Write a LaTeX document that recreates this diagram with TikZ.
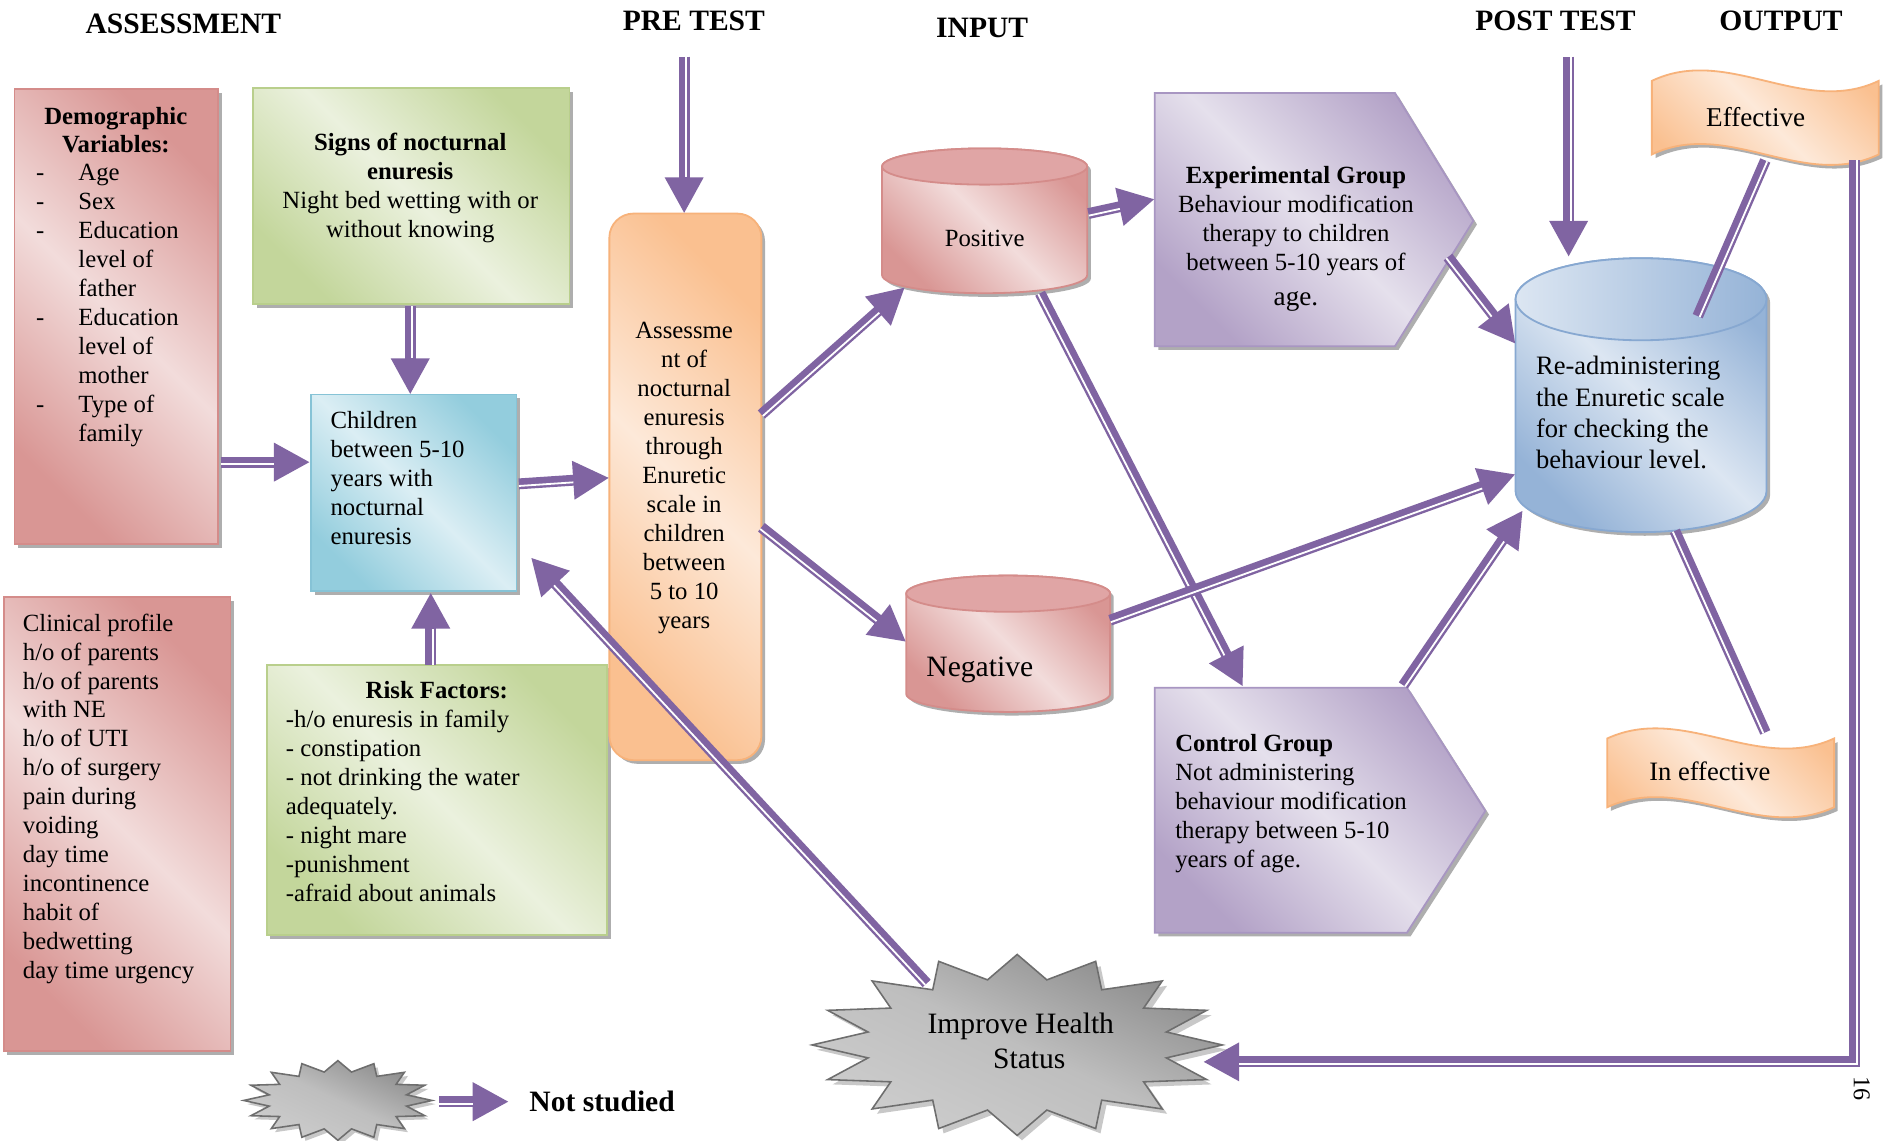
\documentclass[tikz,border=0pt]{standalone}
\usepackage{fontspec}
\setmainfont{Liberation Serif}
\usetikzlibrary{arrows.meta,shadows,calc}
\definecolor{arrc}{HTML}{8064A2}
\definecolor{pinkD}{HTML}{D99694}
\definecolor{pinkL}{HTML}{F2DCDB}
\definecolor{pinkB}{HTML}{D48C8A}
\definecolor{pinkT}{HTML}{E0A5A5}
\definecolor{greenD}{HTML}{C3D69B}
\definecolor{greenL}{HTML}{EBF1DE}
\definecolor{greenB}{HTML}{B9CF8C}
\definecolor{blueD}{HTML}{93CDDD}
\definecolor{blueL}{HTML}{DBEEF4}
\definecolor{blueB}{HTML}{86C3D6}
\definecolor{orD}{HTML}{FAC090}
\definecolor{orL}{HTML}{FDE9D9}
\definecolor{orB}{HTML}{F7B27A}
\definecolor{purD}{HTML}{B3A2C7}
\definecolor{purL}{HTML}{E5E0EC}
\definecolor{purB}{HTML}{A896C2}
\definecolor{rbD}{HTML}{95B3D7}
\definecolor{rbL}{HTML}{DCE6F2}
\definecolor{rbB}{HTML}{87A8D1}
\definecolor{grD}{HTML}{8A8A8A}
\definecolor{grM}{HTML}{BEBEBE}
\definecolor{grL}{HTML}{CDCDCD}
\definecolor{grB}{HTML}{6E6E6E}
\newcommand\dItem{\makebox[35pt][l]{-}}
\newcommand\iItem{\hspace*{35pt}}
\tikzset{
  grad/.style 2 args={shade, top color=#1, bottom color=#1, middle color=#2, shading angle=-45},
  shad/.style={drop shadow={shadow xshift=3pt, shadow yshift=-3pt, fill=black!45, opacity=.7}},
  bx/.style={inner sep=0pt, outer sep=0pt, line width=1.5pt},
  shp/.style={inner sep=0pt, outer sep=0pt, draw=none},
  txt/.style={inner sep=0pt, outer sep=0pt, font=\fontsize{20.5}{24}\selectfont},
  hdr/.style={inner sep=0pt, outer sep=0pt, font=\bfseries\fontsize{24.5}{28}\selectfont},
  arrb/.style={draw=arrc, line width=9pt, -{Triangle[length=30pt,width=30pt]}},
  linb/.style={draw=arrc, line width=9pt},
  wl/.style={draw=white, line width=1.5pt},
}
% #1 start angle, #2 end angle, #3 start coordinate, #4 end coordinate
\newcommand\darr[4]{%
  \draw[arrb] (#3) -- (#4);
  \path ($(#4)!30pt!(#3)$) coordinate (tmpE);
  \draw[wl] ($(#3)!1.75pt!#1:(#4)$) -- ($(tmpE)!1.75pt!#2:(#3)$);
}
\newcommand\dlin[4]{%
  \draw[linb] (#3) -- (#4);
  \draw[wl] ($(#3)!1.75pt!#1:(#4)$) -- ($(#4)!1.75pt!#2:(#3)$);
}
\begin{document}
\begin{tikzpicture}[x=1pt,y=-1pt]
\useasboundingbox (0,0) rectangle (1568,945);
\fill[white] (0,0) rectangle (1568,945);

% headers
\node[hdr] (hA) at (152,20) {ASSESSMENT};
\node[hdr] (hP) at (575,17) {PRE TEST};
\node[hdr] (hI) at (814,23) {INPUT};
\node[hdr] (hPo) at (1289,17) {POST TEST};
\node[hdr] (hO) at (1476,17) {OUTPUT};

% left boxes
\node[bx, grad={pinkD}{pinkL}, draw=pinkB, shad, minimum width=169pt, minimum height=377pt] (demo) at (96.5,262.5) {};
\node[txt, font=\bfseries\fontsize{20.5}{23.5}\selectfont, align=center] (demoH) at (96,108) {Demographic\\Variables:};
\node[txt, align=left, anchor=west] (demoL) at (30,253) {\dItem Age\\\dItem Sex\\\dItem Education\\\iItem level of\\\iItem father\\\dItem Education\\\iItem level of\\\iItem mother\\\dItem Type of\\\iItem family};

\node[bx, grad={greenD}{greenL}, draw=greenB, shad, minimum width=262pt, minimum height=179pt] (signs) at (341,162.5) {};
\node[txt, align=center] (signsT) at (340,156) {\textbf{Signs of nocturnal}\\\textbf{enuresis}\\Night bed wetting with or\\without knowing};

\node[bx, grad={blueD}{blueL}, draw=blueB, shad, minimum width=170pt, minimum height=163pt] (children) at (343,408.5) {};
\node[txt, align=left, anchor=west] (childT) at (274,396) {Children\\between 5-10\\years with\\nocturnal\\enuresis};

\node[bx, grad={pinkD}{pinkL}, draw=pinkB, shad, minimum width=188pt, minimum height=376pt] (clin) at (97,683) {};
\node[txt, align=left, anchor=west] (clinT) at (19,662) {Clinical profile\\h/o of parents\\h/o of parents\\with NE\\h/o of UTI\\h/o of surgery\\pain during\\voiding\\day time\\incontinence\\habit of\\bedwetting\\day time urgency};

\node[bx, grad={greenD}{greenL}, draw=greenB, shad, minimum width=282pt, minimum height=224pt] (risk) at (362,663) {};
\node[txt, font=\bfseries\fontsize{20.5}{24}\selectfont] (riskH) at (362,572) {Risk Factors:};
\node[txt, align=left, anchor=west] (riskT) at (237,668) {-h/o enuresis in family\\- constipation\\- not drinking the water\\adequately.\\- night mare\\-punishment\\-afraid about animals};

\node[bx, grad={orD}{orL}, draw=orB, shad, rounded corners=20pt, minimum width=126pt, minimum height=453pt] (assess) at (568,403.5) {};
\node[txt, align=center] (assT) at (567,396) {Assessme\\nt of\\nocturnal\\enuresis\\through\\Enuretic\\scale in\\children\\between\\5 to 10\\years};

% positive cylinder
\path[grad={pinkD}{pinkL}, draw=pinkB, line width=1.5pt, shad] (731,138) -- (731,228) arc[start angle=180, end angle=360, x radius=85pt, y radius=15pt] -- (901,138) arc[start angle=0, end angle=180, x radius=85pt, y radius=15pt] -- cycle;
\path[fill=pinkT, draw=pinkB, line width=1.5pt] (816,138) ellipse[x radius=85pt, y radius=15pt];
\node[shp, minimum width=170pt, minimum height=120pt] (pos) at (816,183) {};
\node[txt] (posT) at (816,198) {Positive};

% negative cylinder
\path[grad={pinkD}{pinkL}, draw=pinkB, line width=1.5pt, shad] (751,492) -- (751,575) arc[start angle=180, end angle=360, x radius=84.5pt, y radius=15pt] -- (920,492) arc[start angle=0, end angle=180, x radius=84.5pt, y radius=15pt] -- cycle;
\path[fill=pinkT, draw=pinkB, line width=1.5pt] (835.5,492) ellipse[x radius=84.5pt, y radius=15pt];
\node[shp, minimum width=169pt, minimum height=113pt] (neg) at (835.5,533.5) {};
\node[txt, font=\fontsize{24.5}{28}\selectfont] (negT) at (812,555) {Negative};

% experimental group
\path[grad={purD}{purL}, draw=purB, line width=1.5pt, shad] (957,77) -- (1156,77) -- (1221,183) -- (1156,287) -- (957,287) -- cycle;
\node[shp, minimum width=264pt, minimum height=210pt] (exp) at (1089,182) {};
\node[txt, align=center] (expT) at (1074,198) {\textbf{Experimental Group}\\Behaviour modification\\therapy to children\\between 5-10 years of\\[5pt]{\fontsize{22.5}{26}\selectfont age.}};

% control group
\path[grad={purD}{purL}, draw=purB, line width=1.5pt, shad] (957,570) -- (1166,570) -- (1231,672) -- (1166,773) -- (957,773) -- cycle;
\node[shp, minimum width=274pt, minimum height=203pt] (ctrl) at (1094,671.5) {};
\node[txt, align=left, anchor=west] (ctrlT) at (974,666) {\textbf{Control Group}\\Not administering\\behaviour modification\\therapy between 5-10\\years of age.};

% re-administering cylinder
\path[grad={rbD}{rbL}, draw=rbB, line width=1.5pt, shad] (1256,248) -- (1256,407) arc[start angle=180, end angle=360, x radius=104pt, y radius=34pt] -- (1464,248) arc[start angle=0, end angle=180, x radius=104pt, y radius=34pt] -- cycle;
\path[shade, left color=rbL, right color=rbD, draw=rbB, line width=1.5pt] (1360,248) ellipse[x radius=104pt, y radius=34pt];
\node[shp, minimum width=208pt, minimum height=227pt] (ra) at (1360,327.5) {};
\node[txt, align=left, anchor=west, font=\fontsize{22}{26}\selectfont] (raT) at (1273,342) {Re-administering\\the Enuretic scale\\for checking the\\behaviour level.};

% effective / in effective
\path[grad={orD}{orL}, draw=orB, line width=1.5pt, shad] (1369,67) .. controls (1432,37) and (1494,97) .. (1557,67) -- (1557,128) .. controls (1494,158) and (1432,98) .. (1369,128) -- cycle;
\node[shp, minimum width=188pt, minimum height=78pt] (eff) at (1463,97) {};
\node[txt, font=\fontsize{22.5}{26}\selectfont] (effT) at (1455,97) {Effective};

\path[grad={orD}{orL}, draw=orB, line width=1.5pt, shad] (1332,612) .. controls (1395,583) and (1457,641) .. (1520,612) -- (1520,669) .. controls (1457,698) and (1395,640) .. (1332,669) -- cycle;
\node[shp, minimum width=188pt, minimum height=75pt] (ineff) at (1426,637.5) {};
\node[txt, font=\fontsize{22}{26}\selectfont] (ineffT) at (1417,639) {In effective};

% improve health star
\path[shade, top color=grD, bottom color=grL, middle color=grM, shading angle=-25, draw=grB, line width=1.3pt, drop shadow={shadow xshift=4pt, shadow yshift=-4pt, fill=black!30, opacity=.7}]
  ({843+170},866) \foreach \k in {1,...,31}{ -- ({843+(148+22*cos(\k*180))*cos(\k*11.25)},{866+(65+10*cos(\k*180))*sin(\k*11.25)}) } -- cycle;
\node[shp, minimum width=340pt, minimum height=150pt] (imp) at (843,866) {};
\node[txt, align=center, font=\fontsize{24.5}{29}\selectfont] (impT) at (846,863) {Improve Health\\\hspace*{14pt}Status};

% legend star
\path[shade, top color=grD, bottom color=grL, middle color=grM, shading angle=-25, draw=grB, line width=1.3pt, drop shadow={shadow xshift=3pt, shadow yshift=-3pt, fill=black!30, opacity=.7}]
  ({280+78},912) \foreach \k in {1,...,31}{ -- ({280+(68+10*cos(\k*180))*cos(\k*11.25)},{912+(28.5+4.5*cos(\k*180))*sin(\k*11.25)}) } -- cycle;
\node[shp, minimum width=156pt, minimum height=66pt] (leg) at (280,912) {};
\node[hdr] (nsT) at (499,913) {Not studied};

\node[txt, rotate=-90, font=\fontsize{20}{24}\selectfont] (pg) at (1543,902) {16};

% connector end points, tied to the nodes
\coordinate (c1s) at ($(assess.north)+(-1,-130)$);  \coordinate (c1e) at ($(assess.north)+(-1,0)$);
\coordinate (c2s) at ($(ra.north)+(-60,-167)$);     \coordinate (c2e) at ($(ra.north)+(-60,-1)$);
\coordinate (c3s) at ($(signs.south)+(-1,2)$);      \coordinate (c3e) at ($(children.north)+(-3,0)$);
\coordinate (c4s) at ($(risk.north)+(-5,0)$);       \coordinate (c4e) at ($(children.south)+(14,1)$);
\coordinate (c5s) at ($(demo.east)+(2,120.5)$);     \coordinate (c5e) at ($(children.west)+(-1,-25.5)$);
\coordinate (c6s) at ($(children.east)+(2,-7.5)$);  \coordinate (c6e) at ($(assess.west)+(0,-7.5)$);
\coordinate (c7s) at ($(assess.east)+(0,-60)$);     \coordinate (c7e) at ($(pos.south west)+(19,-5)$);
\coordinate (c8s) at ($(assess.east)+(0,33.5)$);    \coordinate (c8e) at ($(neg.west)+(0,-1.5)$);
\coordinate (c9s) at ($(pos.east)+(1,-6)$);         \coordinate (c9e) at ($(exp.west)+(0,-17)$);
\coordinate (c10s) at ($(pos.south)+(46,0)$);       \coordinate (c10e) at ($(ctrl.north)+(-64,-1)$);
\coordinate (c11s) at ($(exp.east)+(-21,31)$);      \coordinate (c11e) at ($(ra.west)+(0,-42.5)$);
\coordinate (c12s) at ($(neg.east)+(0,-19.5)$);     \coordinate (c12e) at ($(ra.west)+(0,65.5)$);
\coordinate (c13s) at ($(ctrl.north)+(69,-2)$);     \coordinate (c13e) at ($(ra.south west)+(6,-18)$);
\coordinate (c14s) at ($(ra.north)+(47,48)$);       \coordinate (c14e) at ($(eff.south)+(0,-3)$);
\coordinate (c15s) at ($(ra.south)+(28,-1)$);       \coordinate (c15e) at ($(ineff.north)+(37,7)$);
\coordinate (c16s) at ($(eff.south east)+(-20,-3)$); \coordinate (c16e) at ($(imp.east)+(-16,14)$);
\coordinate (c17s) at ($(imp.north west)+(95,24)$); \coordinate (c17e) at ($(children.south east)+(12,-28)$);
\coordinate (c18s) at ($(leg.east)+(6,1)$);         \coordinate (c18e) at ($(nsT.west)+(-17,0)$);

% connectors (thin line of each double stroke on the lower / right side)
\darr{90}{270}{c1s}{c1e}
\darr{90}{270}{c2s}{c2e}
\darr{90}{270}{c3s}{c3e}
\darr{-90}{90}{c4s}{c4e}
\darr{-90}{90}{c5s}{c5e}
\darr{-90}{90}{c6s}{c6e}
\darr{-90}{90}{c7s}{c7e}
\darr{-90}{90}{c8s}{c8e}
\darr{-90}{90}{c9s}{c9e}
\darr{-90}{90}{c10s}{c10e}
\darr{-90}{90}{c11s}{c11e}
\darr{-90}{90}{c12s}{c12e}
\darr{-90}{90}{c13s}{c13e}
\dlin{-90}{90}{c14s}{c14e}
\dlin{-90}{90}{c15s}{c15e}
\draw[arrb] (c16s) |- (c16e);
\draw[wl] ($(c16s)+(1.75,0)$) |- ($(c16e)+(30,1.75)$);
\darr{90}{270}{c17s}{c17e}
\darr{-90}{90}{c18s}{c18e}
\end{tikzpicture}
\end{document}
